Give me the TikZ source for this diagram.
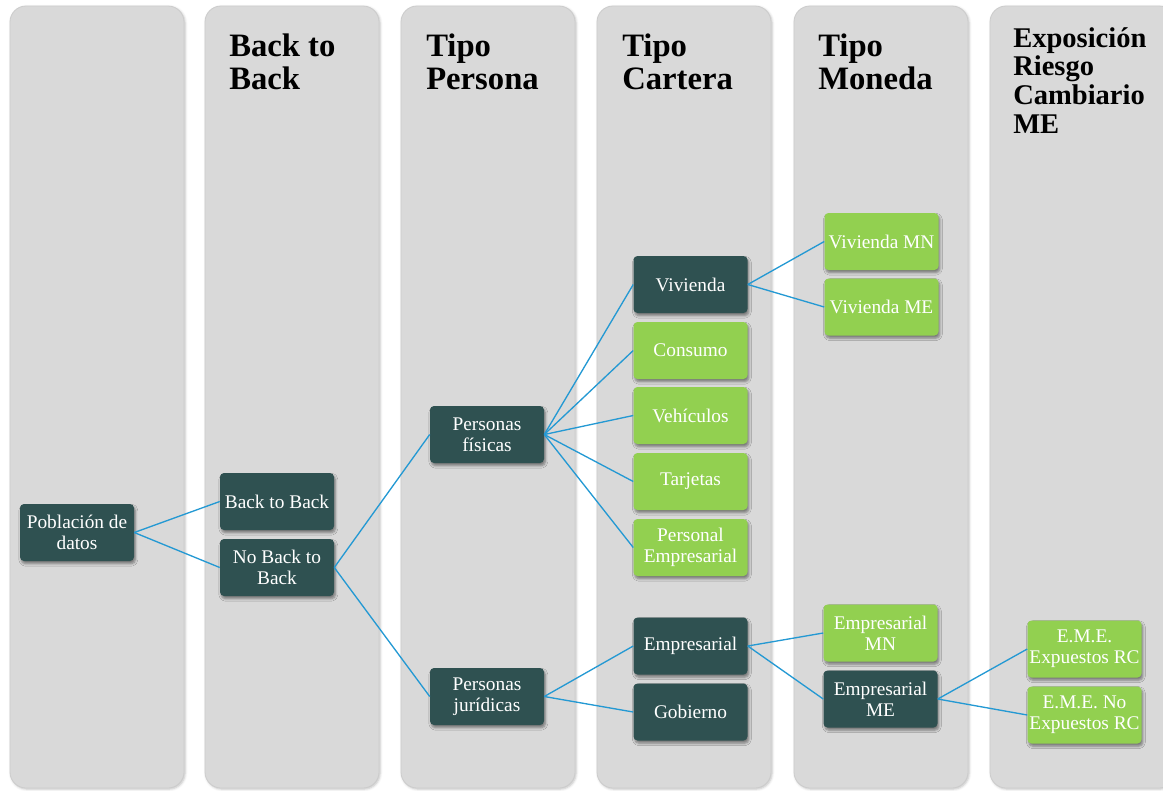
\documentclass[tikz,border=0pt]{standalone}
\usepackage{fontspec}
\setmainfont{Liberation Serif}
\usetikzlibrary{shadows.blur}
\definecolor{laneGray}{HTML}{D9D9D9}
\definecolor{cDark}{HTML}{2F5151}
\definecolor{cGreen}{HTML}{92D050}
\definecolor{cLink}{HTML}{2499D3}
\begin{document}
\begin{tikzpicture}[x=0.75pt,y=-0.75pt,
  lane/.style={fill=laneGray, draw=black!20, line width=0.6pt, rounded corners=12pt,
    blur shadow={shadow xshift=0.8pt, shadow yshift=-0.8pt, shadow opacity=25, shadow blur steps=4}},
  % multi-line headings are placed by the baseline of their last line
  head/.style={anchor=base west, align=left, inner sep=0pt, font=\bfseries\fontsize{24.5}{24.75}\selectfont},
  headsmall/.style={head, font=\bfseries\fontsize{21.4}{21.4}\selectfont},
  box/.style={rounded corners=3pt, minimum width=85.5pt, minimum height=42.75pt, inner sep=1pt,
    align=center, text=white, font=\fontsize{14.5}{15.5}\selectfont,
    blur shadow={shadow xshift=1pt, shadow yshift=-2pt, shadow opacity=45, shadow blur steps=5}},
  nodeDark/.style={box, fill=cDark},
  nodeGreen/.style={box, fill=cGreen},
  link/.style={draw=cLink, line width=1pt}
]
\useasboundingbox (0,0) rectangle (1163,790);
\clip (0,0) rectangle (1163,790);

% lanes
\foreach \l/\r in {10/184, 205/379, 401/575, 597/771, 794/968, 990/1175}
  \path[lane] (\l,6) rectangle (\r,788);

% lane headings
\node[head] (h2) at (229,89) {Back to\\Back};
\node[head] (h3) at (426,89) {Tipo\\Persona};
\node[head] (h4) at (622,89) {Tipo\\Cartera};
\node[head] (h5) at (818,89) {Tipo\\Moneda};
\node[headsmall] (h6) at (1013,133) {Exposición\\Riesgo\\Cambiario\\ME};

% boxes
\node[nodeDark] (pop) at (77,532.5) {Población de\\datos};
\node[nodeDark] (b2b) at (277,501.5) {Back to Back};
\node[nodeDark] (nob) at (277,567.5) {No Back to\\Back};
\node[nodeDark] (pf) at (487,434.5) {Personas\\físicas};
\node[nodeDark] (pj) at (487,696.5) {Personas\\jurídicas};
\node[nodeDark] (viv) at (690.5,284.5) {Vivienda};
\node[nodeGreen] (con) at (690.5,350.5) {Consumo};
\node[nodeGreen] (veh) at (690.5,415.5) {Vehículos};
\node[nodeGreen] (tar) at (690.5,481.5) {Tarjetas};
\node[nodeGreen] (pem) at (690.5,547.5) {Personal\\Empresarial};
\node[nodeDark] (emp) at (690.5,646) {Empresarial};
\node[nodeDark] (gob) at (690.5,712) {Gobierno};
\node[nodeGreen] (vmn) at (881.5,241.5) {Vivienda MN};
\node[nodeGreen] (vme) at (881.5,307) {Vivienda ME};
\node[nodeGreen] (emn) at (880.5,633) {Empresarial\\MN};
\node[nodeDark] (eme) at (880.5,699) {Empresarial\\ME};
\node[nodeGreen] (exp) at (1084.5,649) {E.M.E.\\Expuestos RC};
\node[nodeGreen] (nex) at (1084.5,715) {E.M.E. No\\Expuestos RC};

% connectors
\draw[link] (pop.east) -- (b2b.west);
\draw[link] (pop.east) -- (nob.west);
\draw[link] (nob.east) -- (pf.west);
\draw[link] (nob.east) -- (pj.west);
\foreach \c in {viv,con,veh,tar,pem}
  \draw[link] (pf.east) -- (\c.west);
\draw[link] (pj.east) -- (emp.west);
\draw[link] (pj.east) -- (gob.west);
\draw[link] (viv.east) -- (vmn.west);
\draw[link] (viv.east) -- (vme.west);
\draw[link] (emp.east) -- (emn.west);
\draw[link] (emp.east) -- (eme.west);
\draw[link] (eme.east) -- (exp.west);
\draw[link] (eme.east) -- (nex.west);
\end{tikzpicture}
\end{document}
